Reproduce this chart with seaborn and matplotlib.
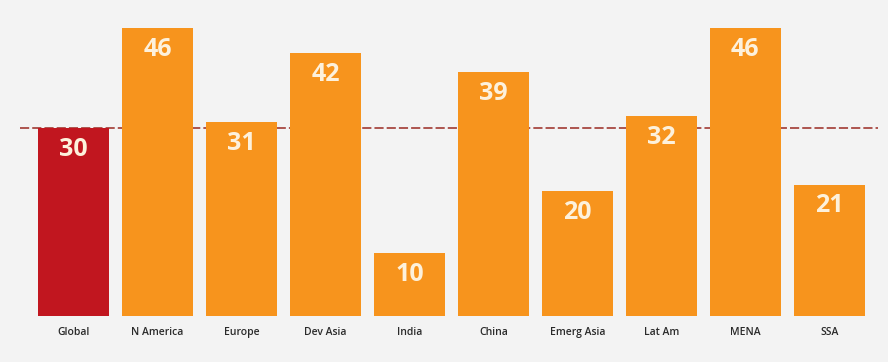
import matplotlib
matplotlib.use("Agg")
import matplotlib.pyplot as plt
import seaborn as sns
import pandas as pd

regions = ["Global", "N America", "Europe", "Dev Asia", "India",
           "China", "Emerg Asia", "Lat Am", "MENA", "SSA"]
values = [30, 46, 31, 42, 10, 39, 20, 32, 46, 21]
global_avg = 30

sns.set_theme(style="white")
plt.rcParams["font.family"] = ["Open Sans", "DejaVu Sans"]

bg = "#f3f3f3"
orange = "#f7941d"
red = "#c1161f"
bar_colors = [red] + [orange] * (len(regions) - 1)

df = pd.DataFrame({"region": regions, "value": values})

fig = plt.figure(figsize=(8.88, 3.62), dpi=100, facecolor=bg)
ax = fig.add_axes([20 / 888, 46 / 362, 858 / 888, 312 / 362])
ax.set_facecolor(bg)

# global average reference line behind the bars
ax.axhline(global_avg, color="#9a2a22", lw=1.1, ls=(0, (6, 2)), zorder=0)

sns.barplot(data=df, x="region", y="value", hue="region", palette=bar_colors,
            legend=False, width=0.845, saturation=1, linewidth=0,
            ax=ax, zorder=2)

for i, v in enumerate(values):
    ax.text(i, v - 3.4, f"{v}", ha="center", va="center", color="#fdf1dc",
            fontsize=18, fontweight="bold", zorder=3)

ax.set_xlim(-0.637, 9.58)
ax.set_ylim(0, 49.9)
ax.set_xlabel("")
ax.set_ylabel("")
ax.set_yticks([])
ax.tick_params(axis="x", length=0, pad=8, labelsize=7.5, labelcolor="#2a2a2a")
for lbl in ax.get_xticklabels():
    lbl.set_fontweight("semibold")
for s in ax.spines.values():
    s.set_visible(False)

fig.savefig("out.png", dpi=100, facecolor=bg)
